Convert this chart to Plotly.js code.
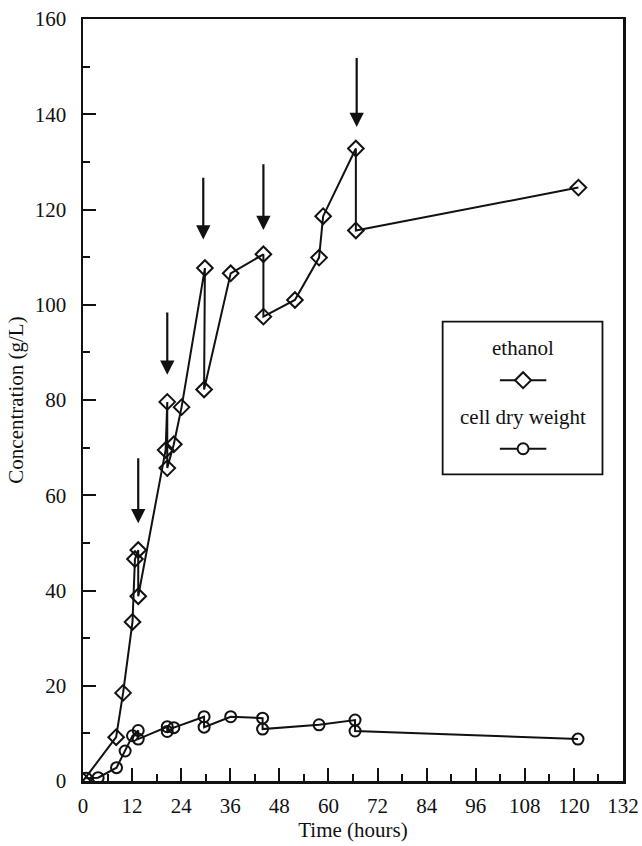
<!DOCTYPE html>
<html>
<head>
<meta charset="utf-8">
<script src="https://cdn.plot.ly/plotly-3.0.1.min.js"></script>
<style>
  html, body { margin: 0; padding: 0; background: #fff; }
  #chart { width: 642px; height: 846px; }
</style>
</head>
<body>
<div id="chart"></div>
<script>
// Fed-batch fermentation: ethanol and cell dry weight over time
const ethanolHours = [0, 8.1, 9.8, 12.1, 12.7, 13.5, 13.5, 20.2, 20.6, 20.6, 22.2, 24.1, 29.8, 29.6, 36.1, 44.1, 44.1, 51.8, 57.7, 58.7, 66.7, 66.7, 121.1];
const ethanolGL    = [0, 9.2, 18.5, 33.4, 46.6, 48.5, 38.8, 69.5, 79.6, 65.7, 70.7, 78.5, 107.7, 82.2, 106.6, 110.6, 97.5, 101.0, 109.9, 118.6, 132.8, 115.6, 124.6];

const cellHours = [0.8, 3.7, 8.2, 10.3, 12.1, 13.5, 13.5, 20.6, 20.6, 22.2, 29.6, 29.6, 36.1, 43.9, 43.9, 57.7, 66.5, 66.5, 121.0];
const cellGL    = [0.6, 0.7, 2.8, 6.3, 9.5, 10.6, 8.8, 11.4, 10.4, 11.2, 13.5, 11.3, 13.5, 13.2, 10.9, 11.8, 12.8, 10.5, 8.8];

// Feeding events (arrow tail and head heights in g/L)
const feedHours = [13.5, 20.6, 29.4, 44.1, 66.9];
const arrowTail = [68.1, 98.7, 127.0, 129.8, 152.1];
const arrowHead = [54.1, 85.3, 113.7, 115.7, 137.3];

const xTicks = [0, 12, 24, 36, 48, 60, 72, 84, 96, 108, 120, 132];
const yTicks = [0, 20, 40, 60, 80, 100, 120, 140, 160];

const legendLabels = ['ethanol', 'cell dry weight'];

const FONT = 'Liberation Serif, Times New Roman, serif';
const FS = 21;
const INK = '#111';

const traces = [
  {
    x: ethanolHours, y: ethanolGL, name: legendLabels[0],
    type: 'scatter', mode: 'lines+markers',
    line: { color: INK, width: 2 },
    marker: { symbol: 'diamond-open', size: 12, color: INK, line: { width: 2, color: INK } }
  },
  {
    x: cellHours, y: cellGL, name: legendLabels[1],
    type: 'scatter', mode: 'lines+markers',
    line: { color: INK, width: 2 },
    marker: { symbol: 'circle-open', size: 11, color: INK, line: { width: 2, color: INK } }
  }
];

const annotations = feedHours.map((h, i) => ({
  x: h, y: arrowHead[i], xref: 'x', yref: 'y',
  ax: h, ay: arrowTail[i], axref: 'x', ayref: 'y',
  text: '', showarrow: true,
  arrowhead: 2, arrowsize: 1.3, arrowwidth: 2.2, arrowcolor: INK, standoff: 0
}));

// Hand-made legend box: label text above each sample symbol
const legX = 0.815;
const legRows = [
  { text: legendLabels[0], ty: 0.568, sy: 0.526, sym: 'diamond' },
  { text: legendLabels[1], ty: 0.478, sy: 0.436, sym: 'circle' }
];
legRows.forEach(r => annotations.push({
  x: legX, y: r.ty, xref: 'paper', yref: 'paper', text: r.text,
  showarrow: false, xanchor: 'center', yanchor: 'middle',
  font: { family: FONT, size: FS, color: INK }
}));

const shapes = [
  { type: 'rect', xref: 'paper', yref: 'paper', x0: 0.666, x1: 0.962, y0: 0.4025, y1: 0.6028,
    line: { color: INK, width: 1.8 }, fillcolor: 'rgba(0,0,0,0)' }
];
legRows.forEach(r => {
  shapes.push({ type: 'line', xref: 'paper', yref: 'paper', x0: legX - 0.043, x1: legX + 0.043,
    y0: r.sy, y1: r.sy, line: { color: INK, width: 2 } });
  if (r.sym === 'diamond') {
    shapes.push({ type: 'path', xref: 'paper', yref: 'paper', xsizemode: 'pixel', ysizemode: 'pixel',
      xanchor: legX, yanchor: r.sy, path: 'M -8 0 L 0 8 L 8 0 L 0 -8 Z',
      line: { color: INK, width: 2 }, fillcolor: '#fff' });
  } else {
    shapes.push({ type: 'circle', xref: 'paper', yref: 'paper', xsizemode: 'pixel', ysizemode: 'pixel',
      xanchor: legX, yanchor: r.sy, x0: -5.5, x1: 5.5, y0: -5.5, y1: 5.5,
      line: { color: INK, width: 2 }, fillcolor: '#fff' });
  }
});

const layout = {
  width: 642, height: 846,
  margin: { l: 83, r: 19, t: 19, b: 65 },
  paper_bgcolor: '#fff', plot_bgcolor: '#fff',
  showlegend: false,
  font: { family: FONT, size: FS, color: INK },
  xaxis: {
    range: [0, 132], tickvals: xTicks, ticktext: xTicks.map(String),
    ticks: 'inside', ticklen: 13, tickwidth: 2, tickcolor: INK,
    minor: { dtick: 6, tick0: 0, ticks: 'inside', ticklen: 7, tickwidth: 2, tickcolor: INK },
    showline: true, linewidth: 2.5, linecolor: INK, mirror: true,
    showgrid: false, zeroline: false,
    ticklabelstandoff: 4,
    tickfont: { family: FONT, size: FS, color: INK },
    title: { text: 'Time (hours)', font: { family: FONT, size: FS, color: INK }, standoff: 3 }
  },
  yaxis: {
    range: [0, 160], tickvals: yTicks, ticktext: yTicks.map(String),
    ticks: 'inside', ticklen: 13, tickwidth: 2, tickcolor: INK,
    minor: { dtick: 10, tick0: 0, ticks: 'inside', ticklen: 7, tickwidth: 2, tickcolor: INK },
    showline: true, linewidth: 2.5, linecolor: INK, mirror: true,
    showgrid: false, zeroline: false,
    ticklabelstandoff: 10,
    tickfont: { family: FONT, size: FS, color: INK },
    title: { text: 'Concentration (g/L)', font: { family: FONT, size: FS, color: INK }, standoff: 6 }
  },
  annotations: annotations,
  shapes: shapes
};

Plotly.newPlot('chart', traces, layout, { staticPlot: true, displayModeBar: false });
</script>
</body>
</html>
